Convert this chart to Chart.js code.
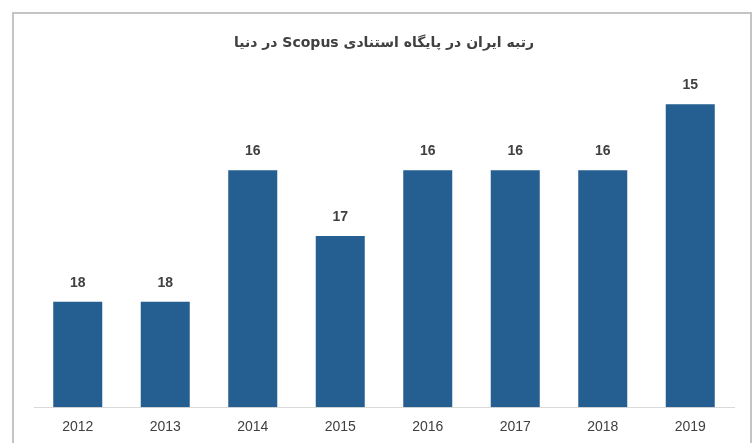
<!DOCTYPE html>
<html>
<head>
<meta charset="utf-8">
<script src="https://cdn.jsdelivr.net/npm/chart.js@4"></script>
<style>
  html, body { margin: 0; padding: 0; background: #fff; overflow: hidden; }
  #frame { position: absolute; left: 12px; top: 12px; width: 736px; height: 460px; border: 2px solid #c4c4c4; }
  #wrap { position: absolute; left: 0; top: 0; width: 754px; height: 448px; }
</style>
</head>
<body>
<div id="frame"></div>
<div id="wrap"><canvas id="rank-chart" dir="rtl"></canvas></div>
<script>
// rank of Iran in Scopus (lower rank = taller bar, so the axis is reversed)
var years = ['2012', '2013', '2014', '2015', '2016', '2017', '2018', '2019'];
var ranks = [18, 18, 16, 17, 16, 16, 16, 15];
var rankBase = 19.6;
var rankTop = 14.4;

// simple value labels above each bar
var barLabels = {
	id: 'barLabels',
	afterDatasetsDraw: function(chart) {
		var c = chart.ctx;
		var meta = chart.getDatasetMeta(0);
		c.save();
		c.font = 'bold 14px "Liberation Sans", Arial, sans-serif';
		c.fillStyle = '#404040';
		c.textAlign = 'center';
		c.textBaseline = 'middle';
		meta.data.forEach(function(bar, i) {
			c.fillText(String(ranks[i]), bar.x, bar.y - 19);
		});
		c.restore();
	}
};

var ctx = document.getElementById('rank-chart').getContext('2d');
var myChart = new Chart(ctx, {
	type: 'bar',
	data: {
		labels: years,
		datasets: [{
			label: 'رتبه',
			data: ranks,
			base: rankBase,
			backgroundColor: '#255e91',
			borderWidth: 0,
			categoryPercentage: 1,
			barPercentage: 0.56
		}]
	},
	options: {
		responsive: true,
		maintainAspectRatio: false,
		animation: false,
		layout: { padding: { left: 34, right: 20, top: 26, bottom: 0 } },
		plugins: {
			legend: { display: false },
			tooltip: { enabled: false },
			title: {
				display: true,
				text: 'رتبه ایران در پایگاه استنادی Scopus در دنیا',
				color: '#404040',
				font: { family: '"DejaVu Sans", sans-serif', size: 14, weight: 'bold' },
				padding: { top: 9, bottom: 13 }
			}
		},
		scales: {
			x: {
				grid: { display: false, drawTicks: false },
				border: { display: true, color: '#d9d9d9', width: 1 },
				ticks: {
					color: '#404040',
					padding: 12,
					font: { family: '"Liberation Sans", Arial, sans-serif', size: 14 }
				}
			},
			y: {
				display: false,
				reverse: true,
				min: rankTop,
				max: rankBase
			}
		}
	},
	plugins: [barLabels]
});
</script>
</body>
</html>
